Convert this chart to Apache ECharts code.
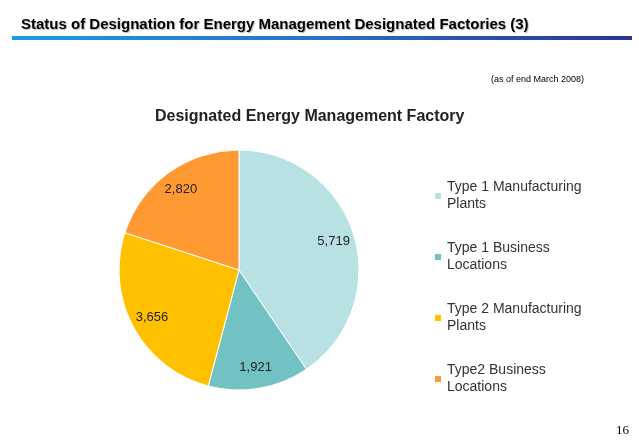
<!DOCTYPE html><html><head><meta charset="utf-8"><script src="https://cdn.jsdelivr.net/npm/echarts@6/dist/echarts.min.js"></script>
<style>html,body{margin:0;padding:0;background:#fff}#c{width:639px;height:443px}</style></head><body><div id="c"></div><script>
const categories=['Type 1 Manufacturing Plants','Type 1 Business Locations','Type 2 Manufacturing Plants','Type2 Business Locations'];
const legendLabels=['Type 1 Manufacturing\nPlants','Type 1 Business\nLocations','Type 2 Manufacturing\nPlants','Type2 Business\nLocations'];
const values=[5719,1921,3656,2820];
const colors=['#b7e1e3','#72c2c4','#ffc000','#ff9a33'];
const data=categories.map((n,i)=>({name:n,value:values[i],itemStyle:{color:colors[i]}}));
const chart=echarts.init(document.getElementById('c'));
chart.setOption({
animation:false,
title:[{text:'Status of Designation for Energy Management Designated Factories (3)',left:16,top:12,textStyle:{fontFamily:'Liberation Sans',fontSize:15,fontWeight:'bold',color:'#000',textShadowColor:'#bbb',textShadowOffsetX:1,textShadowOffsetY:1,textShadowBlur:1}},
{text:'(as of end March 2008)',right:50,top:70,textStyle:{fontFamily:'Liberation Sans',fontSize:9,fontWeight:'normal',color:'#000'}},
{text:'Designated Energy Management Factory',left:150,top:104,textStyle:{fontFamily:'Liberation Sans',fontSize:16,fontWeight:'bold',color:'#222'}}],
graphic:[{type:'rect',shape:{x:12,y:36,width:620,height:4},style:{fill:new echarts.graphic.LinearGradient(0,0,1,0,[{offset:0,color:'#1a9be6'},{offset:0.5,color:'#2a6fc8'},{offset:1,color:'#2b3590'}])}},
{type:'text',right:10,top:424,style:{text:'16',font:'13px "Liberation Serif"',fill:'#000'}}],
legend:{orient:'vertical',left:428,top:174,itemWidth:8,itemHeight:8,itemGap:27,icon:'rect',
formatter:n=>legendLabels[categories.indexOf(n)],textStyle:{fontFamily:'Liberation Sans',fontSize:14,color:'#333',lineHeight:17},data:categories},
series:[{type:'pie',center:[239,270],radius:120,startAngle:90,clockwise:true,data:data,label:{show:false},labelLine:{show:false},silent:true,itemStyle:{borderColor:'#fff',borderWidth:1}},
{type:'pie',center:[239,270],radius:[0,192],startAngle:90,clockwise:true,data:data.map(d=>({name:d.name,value:d.value,itemStyle:{color:'rgba(0,0,0,0)'}})),silent:true,
label:{show:true,position:'inside',formatter:p=>p.value.toLocaleString('en-US'),fontFamily:'Liberation Sans',fontSize:13,color:'#222'},labelLine:{show:false}}]
});
</script></body></html>
